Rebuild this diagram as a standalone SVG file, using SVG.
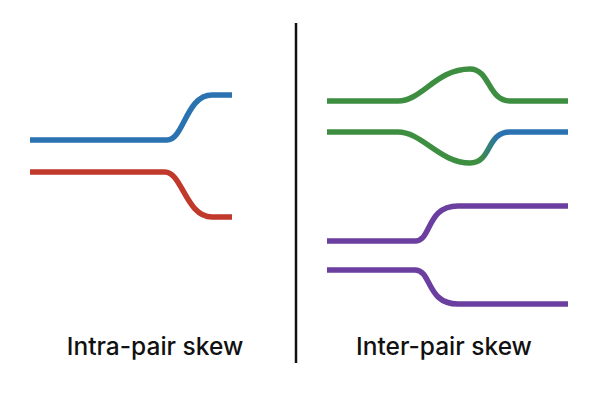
<svg xmlns="http://www.w3.org/2000/svg" width="600" height="400" viewBox="0 0 600 400">
<style>
.t{fill:none;stroke-width:5.5;stroke-linecap:butt;stroke-linejoin:round}
.lbl{font-family:Inter,"Noto Sans",sans-serif;font-size:24.5px;font-weight:500;fill:#111;text-anchor:middle}
</style>
<defs>
<linearGradient id="gb" gradientUnits="userSpaceOnUse" x1="480" y1="0" x2="498" y2="0">
<stop offset="0" stop-color="#3e8e41"/>
<stop offset="1" stop-color="#2a72b0"/>
</linearGradient>
</defs>
<rect width="600" height="400" fill="#fff"/>
<g id="connectors">
<path id="divider" d="M296 23 V363" stroke="#111" stroke-width="2.5" fill="none"/>
</g>
<g id="intra-pair">
<path class="t" stroke="#2a72b0" d="M30 140 H167 C184 140 186 95 212 95 H232"/>
<path class="t" stroke="#c0392b" d="M30 172 H165 C182 172 186 217 212 217 H232"/>
<text class="lbl" x="155" y="355">Intra-pair skew</text>
</g>
<g id="inter-pair">
<path class="t" stroke="#3e8e41" d="M327 101 H398 C422 101 436 69 470 69 C490 69 488 101 510 101 H568"/>
<path class="t" stroke="url(#gb)" d="M327 132 H398 C422 132 440 163 470 163 C492 163 486 132 510 132 H568"/>
<path class="t" stroke="#6b3fa0" d="M327 241 H415 C432 241 426 206 458 206 H568"/>
<path class="t" stroke="#6b3fa0" d="M327 270 H415 C432 270 426 304 458 304 H568"/>
<text class="lbl" x="444" y="355">Inter-pair skew</text>
</g>
</svg>
